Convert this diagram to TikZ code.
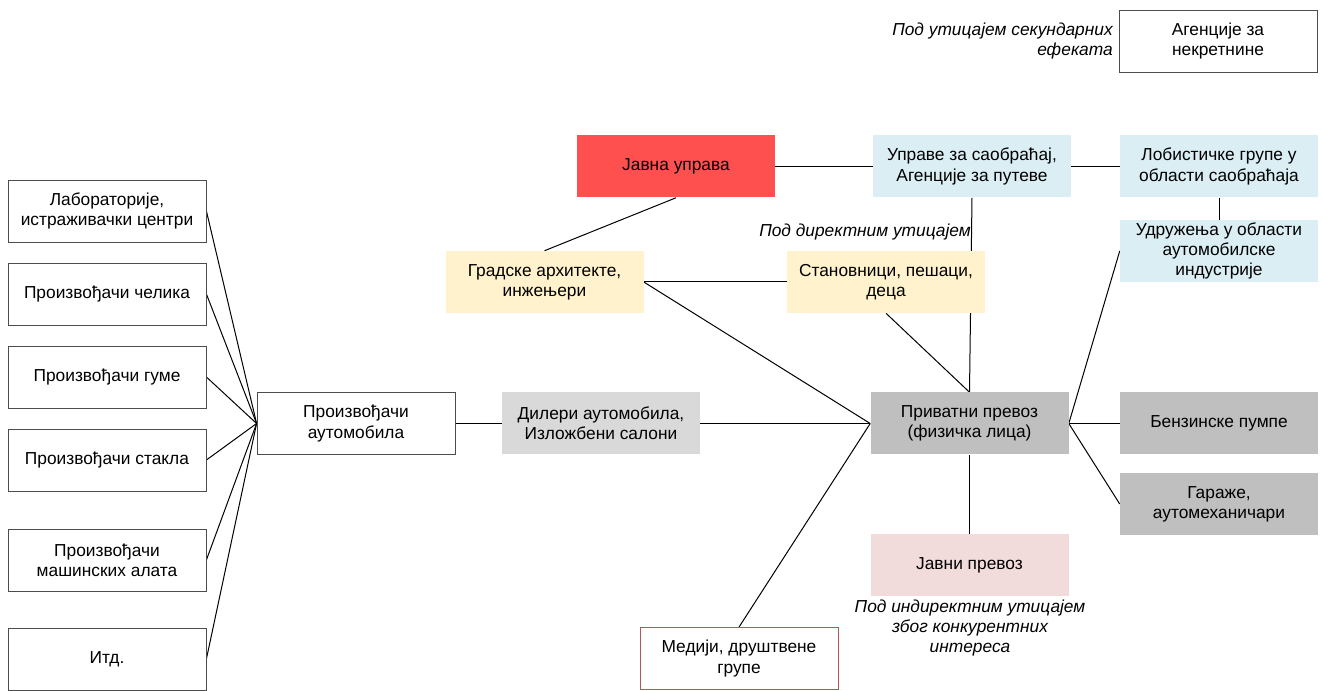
\documentclass[tikz,border=0pt]{standalone}
\usepackage{fontspec}
\setmainfont{Liberation Sans}
\usetikzlibrary{backgrounds}
\definecolor{jured}{RGB}{255,80,80}
\definecolor{ltblue}{RGB}{218,238,243}
\definecolor{ltyellow}{RGB}{255,242,204}
\definecolor{dilgray}{RGB}{217,217,217}
\definecolor{midgray}{RGB}{191,191,191}
\definecolor{ltpink}{RGB}{242,220,219}
\definecolor{medborder}{RGB}{183,84,92}
\begin{document}
\begin{tikzpicture}[x=0.75pt,y=-0.75pt,
  box/.style={minimum width=148.5pt,minimum height=46.5pt,inner sep=2pt,align=center,font=\fontsize{13}{15.2}\selectfont},
  wbox/.style={box,draw=black!70,line width=0.6pt,fill=white},
  fbox/.style={box,fill=#1},
  note/.style={font=\fontsize{13}{15.2}\selectfont\itshape,inner sep=0pt},
  conn/.style={draw=black,line width=0.75pt}]
\useasboundingbox (0,0) rectangle (1322,691);
% top right
\node[wbox] (ag) at (1218,41) {Агенције за\\некретнине};
\node[note,anchor=east,align=right] (sec) at (1113,41) {Под утицајем секундарних\\ефеката};
% top row
\node[fbox=jured] (ju) at (676,166.5) {Јавна управа};
\node[fbox=ltblue] (up) at (972,166.5) {Управе за саобраћај,\\Агенције за путеве};
\node[fbox=ltblue] (lob) at (1219,166.5) {Лобистичке групе у\\области саобраћаја};
\node[fbox=ltblue] (ud) at (1219,251) {Удружења у области\\аутомобилске\\индустрије};
\node[fbox=ltyellow] (ga) at (544.5,282) {Градске архитекте,\\инжењери};
\node[fbox=ltyellow] (st) at (886,282) {Становници, пешаци,\\деца};
\node[note,anchor=east] (dir) at (971,232) {Под директним утицајем};
% left column
\node[wbox] (lab) at (107,211) {Лабораторије,\\истраживачки центри};
\node[wbox] (cel) at (107,294) {Произвођачи челика};
\node[wbox] (gum) at (107,377) {Произвођачи гуме};
\node[wbox] (sta) at (107,460) {Произвођачи стакла};
\node[wbox] (mas) at (107,560) {Произвођачи\\машинских алата};
\node[wbox] (itd) at (107,659) {Итд.};
% middle row
\node[wbox] (pa) at (356,423.5) {Произвођачи\\аутомобила};
\node[fbox=dilgray] (dil) at (601,423.5) {Дилери аутомобила,\\Изложбени салони};
\node[fbox=midgray] (pp) at (969.5,423.5) {Приватни превоз\\(физичка лица)};
\node[fbox=midgray] (ben) at (1219,423.5) {Бензинске пумпе};
\node[fbox=midgray] (gar) at (1219,504) {Гараже,\\аутомеханичари};
\node[fbox=ltpink] (jp) at (969.5,565) {Јавни превоз};
\node[note,align=center] (ind) at (970,628) {Под индиректним утицајем\\због конкурентних\\интереса};
\node[wbox,draw=medborder] (med) at (739,658.5) {Медији, друштвене\\групе};
\begin{pgfonlayer}{background}
\foreach \n in {lab,cel,gum,sta,mas,itd}{\draw[conn] (\n.east) -- (pa.west);}
\draw[conn] (pa.east) -- (dil.west);
\draw[conn] (dil.east) -- (pp.west);
\draw[conn] (ga.east) -- (pp.west);
\draw[conn] (ga.east) -- (st.west);
\draw[conn] (ju.south) -- (ga.north);
\draw[conn] (ju.east) -- (up.west);
\draw[conn] (up.east) -- (lob.west);
\draw[conn] (lob.south) -- (ud.north);
\draw[conn] (up.south) -- (pp.north);
\draw[conn] (st.south) -- (pp.north);
\draw[conn] (pp.east) -- (ud.west);
\draw[conn] (pp.east) -- (ben.west);
\draw[conn] (pp.east) -- (gar.west);
\draw[conn] (pp.south) -- (jp.north);
\draw[conn] (pp.west) -- (med.north);
\end{pgfonlayer}
\end{tikzpicture}
\end{document}
